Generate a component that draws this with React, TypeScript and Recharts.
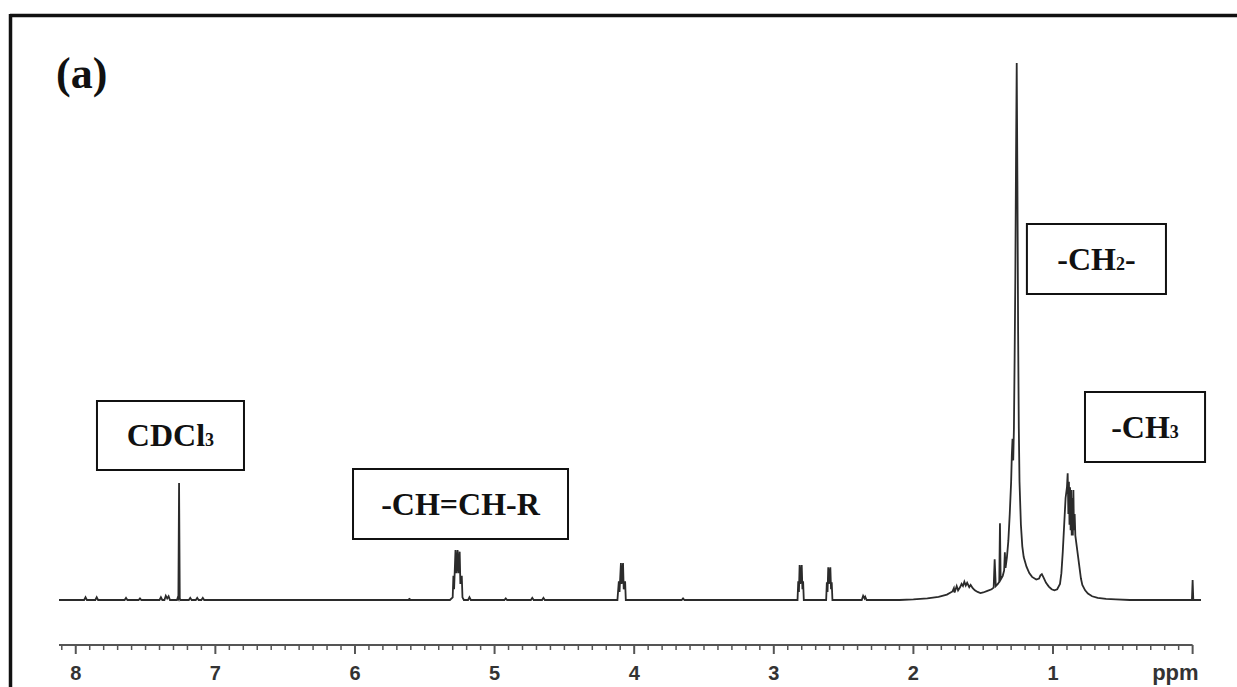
import React from 'react';
import { LineChart, Line, XAxis, YAxis, ReferenceArea, ReferenceLine } from 'recharts';

// [ppm, relative intensity] (CH2 = 100)
const aromaticRegion: [number, number][] = [
  [8.12, 0], [8.0, 0],
  [7.94, 0], [7.93, 0.5], [7.92, 0],
  [7.86, 0], [7.85, 0.5], [7.84, 0],
  [7.65, 0], [7.64, 0.4], [7.63, 0],
  [7.55, 0], [7.54, 0.3], [7.53, 0],
  [7.4, 0], [7.39, 0.5], [7.38, 0],
  [7.365, 0], [7.355, 0.8], [7.345, 0.3], [7.335, 0.7], [7.325, 0],
  [7.275, 0], [7.27, 0.4], [7.265, 0.2], [7.26, 21.8], [7.255, 0.3], [7.25, 0],
  [7.19, 0], [7.18, 0.4], [7.17, 0],
  [7.14, 0], [7.13, 0.4], [7.12, 0],
  [7.1, 0], [7.09, 0.4], [7.08, 0],
];

const olefinRegion: [number, number][] = [
  [5.62, 0], [5.61, 0.2], [5.6, 0],
  [5.32, 0], [5.3, 0.5], [5.295, 4.5], [5.29, 2], [5.28, 9.3], [5.275, 5], [5.265, 9.3],
  [5.26, 5], [5.25, 9.0], [5.245, 3], [5.235, 4.5], [5.23, 0.5], [5.22, 0],
  [5.19, 0], [5.18, 0.5], [5.17, 0],
  [4.93, 0], [4.92, 0.3], [4.91, 0],
  [4.74, 0], [4.73, 0.4], [4.72, 0],
  [4.66, 0], [4.65, 0.4], [4.64, 0],
];

const midRegion: [number, number][] = [
  [4.12, 0], [4.11, 3.5], [4.105, 1.5], [4.095, 6.9], [4.09, 3], [4.08, 6.9], [4.075, 2], [4.065, 3.5], [4.06, 0],
  [3.66, 0], [3.65, 0.3], [3.64, 0],
  [2.83, 0], [2.825, 3.5], [2.82, 1.5], [2.815, 6.5], [2.81, 3], [2.8, 6.5], [2.795, 2], [2.79, 3.5], [2.785, 0],
  [2.625, 0], [2.62, 3.3], [2.615, 1.5], [2.61, 6.1], [2.605, 3], [2.595, 6.1], [2.59, 2], [2.585, 3.3], [2.58, 0],
  [2.37, 0], [2.36, 0.8], [2.35, 0.3], [2.345, 0.6], [2.335, 0],
  [2.1, 0],
];

const aliphaticRegion: [number, number][] = [
  [2.0, 0.1], [1.9, 0.3], [1.82, 0.6], [1.76, 1.0], [1.72, 1.6],
  [1.71, 2.2], [1.705, 1.4], [1.69, 2.6], [1.68, 1.8], [1.665, 2.4], [1.655, 3.0], [1.645, 2.6],
  [1.635, 3.4], [1.625, 2.7], [1.615, 3.2], [1.6, 2.4], [1.59, 2.8], [1.575, 2.2], [1.56, 1.8],
  [1.54, 1.5], [1.52, 1.3], [1.5, 1.4], [1.47, 1.7], [1.44, 2.0], [1.425, 2.3], [1.418, 7.6],
  [1.41, 2.6], [1.395, 3.0], [1.385, 3.4], [1.38, 14.3], [1.375, 3.8], [1.36, 4.5], [1.35, 5.5],
  [1.345, 8.9], [1.34, 6.0], [1.33, 8], [1.32, 11], [1.31, 16], [1.3, 22], [1.295, 27], [1.29, 30],
  [1.285, 26], [1.28, 32], [1.275, 45], [1.27, 60], [1.265, 82], [1.26, 100], [1.255, 78], [1.25, 50],
  [1.245, 32], [1.24, 22], [1.23, 14], [1.22, 10], [1.21, 8], [1.19, 6.2], [1.17, 5.0], [1.15, 4.3],
  [1.12, 3.8], [1.1, 4.0], [1.09, 4.6], [1.08, 4.8], [1.07, 4.3], [1.05, 3.2], [1.03, 2.5], [1.01, 2.0],
  [0.99, 1.8], [0.97, 2.0], [0.95, 3.0], [0.94, 5], [0.93, 9], [0.92, 14], [0.91, 19], [0.9, 21],
  [0.895, 23.6], [0.89, 16], [0.886, 22], [0.882, 14], [0.878, 21], [0.874, 13], [0.87, 20.5],
  [0.866, 12], [0.862, 19], [0.858, 12], [0.854, 20.5], [0.85, 13], [0.845, 16], [0.84, 12],
  [0.83, 10], [0.82, 8], [0.81, 6], [0.8, 4], [0.79, 2.8], [0.77, 1.8], [0.75, 1.2], [0.72, 0.7],
  [0.68, 0.4], [0.62, 0.2], [0.55, 0.1], [0.45, 0],
  [0.01, 0], [0.005, 0], [0.0, 3.7], [-0.005, 0], [-0.06, 0],
];

const spectrum = [...aromaticRegion, ...olefinRegion, ...midRegion, ...aliphaticRegion].map(
  ([ppm, intensity]) => ({ ppm, intensity })
);

const majorTicks = [8, 7, 6, 5, 4, 3, 2, 1, 0];
const majorLabels = ['8', '7', '6', '5', '4', '3', '2', '1', 'ppm'];
const minorTicks: number[] = [];
for (let i = 0; i <= 81; i++) minorTicks.push(i / 10);

const X_DOMAIN: [number, number] = [-0.06, 8.12];
const Y_DOMAIN: [number, number] = [-8.38, 100];

// annotation boxes in data coordinates (ppm range, intensity range)
const boxLabels = [
  { parts: [['CDCl', false], ['3', true]], x1: 7.848, x2: 6.795, y1: 24.21, y2: 37.06 },
  { parts: [['-CH=CH-R', false]], x1: 6.014, x2: 4.474, y1: 11.36, y2: 24.39 },
  { parts: [['-CH', false], ['2', true], ['-', false]], x1: 1.187, x2: 0.191, y1: 56.98, y2: 70.02 },
  { parts: [['-CH', false], ['3', true]], x1: 0.771, x2: -0.089, y1: 25.7, y2: 38.73 },
];

const serif = "'Liberation Serif', 'Times New Roman', serif";
const sans = "'Liberation Sans', Arial, Helvetica, sans-serif";

const AxisTick = (props: any) => {
  const { x, y, payload } = props;
  const v = payload.value;
  const isMajor = Math.abs(v - Math.round(v)) < 1e-6;
  if (!isMajor) {
    return <line x1={x} x2={x} y1={y} y2={y + 5} stroke="#555" strokeWidth={1.5} />;
  }
  const idx = majorTicks.indexOf(Math.round(v));
  const label = majorLabels[idx];
  const isUnit = label === 'ppm';
  return (
    <g>
      <line x1={x} x2={x} y1={y} y2={y + 9} stroke="#555" strokeWidth={2} />
      <text
        x={isUnit ? x + 6 : x}
        y={y + 35}
        textAnchor={isUnit ? 'end' : 'middle'}
        fontFamily={sans}
        fontWeight="bold"
        fontSize={isUnit ? 22 : 20}
        fill="#333"
      >
        {label}
      </text>
    </g>
  );
};

const BoxText = (props: any) => {
  const vb = props.viewBox || {};
  const cx = vb.x + vb.width / 2;
  const cy = vb.y + vb.height / 2;
  const parts: [string, boolean][] = props.parts;
  return (
    <text x={cx} y={cy + 11} textAnchor="middle" fontFamily={serif} fontWeight="bold" fontSize={32} fill="#111">
      {parts.map(([t, sub], i) => (
        <tspan key={i} fontSize={sub ? 18 : 32}>
          {t}
        </tspan>
      ))}
    </text>
  );
};

export default function App() {
  return (
    <div style={{ position: 'absolute', left: 0, top: 0, width: 1237, height: 687, background: '#fff', overflow: 'hidden' }}>
      <LineChart width={1237} height={687} data={spectrum} margin={{ top: 63, right: 36, bottom: 0, left: 59 }}>
        <XAxis
          dataKey="ppm"
          type="number"
          domain={X_DOMAIN}
          allowDataOverflow
          reversed
          ticks={minorTicks}
          interval={0}
          tick={<AxisTick />}
          tickLine={false}
          axisLine={false}
          tickSize={0}
          tickMargin={0}
          height={42}
        />
        <YAxis type="number" domain={Y_DOMAIN} allowDataOverflow hide />
        <ReferenceLine
          segment={[{ x: 8.12, y: Y_DOMAIN[0] }, { x: 0, y: Y_DOMAIN[0] }]}
          stroke="#555"
          strokeWidth={2}
          ifOverflow="visible"
        />
        <Line
          dataKey="intensity"
          type="linear"
          stroke="#2b2b2b"
          strokeWidth={1.8}
          dot={false}
          activeDot={false}
          isAnimationActive={false}
        />
        {boxLabels.map((b, i) => (
          <ReferenceArea
            key={i}
            x1={b.x1}
            x2={b.x2}
            y1={b.y1}
            y2={b.y2}
            fill="#fff"
            fillOpacity={1}
            stroke="#111"
            strokeWidth={2}
            ifOverflow="visible"
            label={<BoxText parts={b.parts} />}
          />
        ))}
      </LineChart>
      <svg width={1237} height={687} style={{ position: 'absolute', left: 0, top: 0, pointerEvents: 'none' }}>
        <line x1={10} y1={15.5} x2={1237} y2={15.5} stroke="#111" strokeWidth={3.5} />
        <line x1={10.5} y1={14} x2={10.5} y2={687} stroke="#111" strokeWidth={3.5} />
        <text x={56} y={88} fontFamily={serif} fontWeight="bold" fontSize={44} fill="#111">
          (a)
        </text>
      </svg>
    </div>
  );
}
